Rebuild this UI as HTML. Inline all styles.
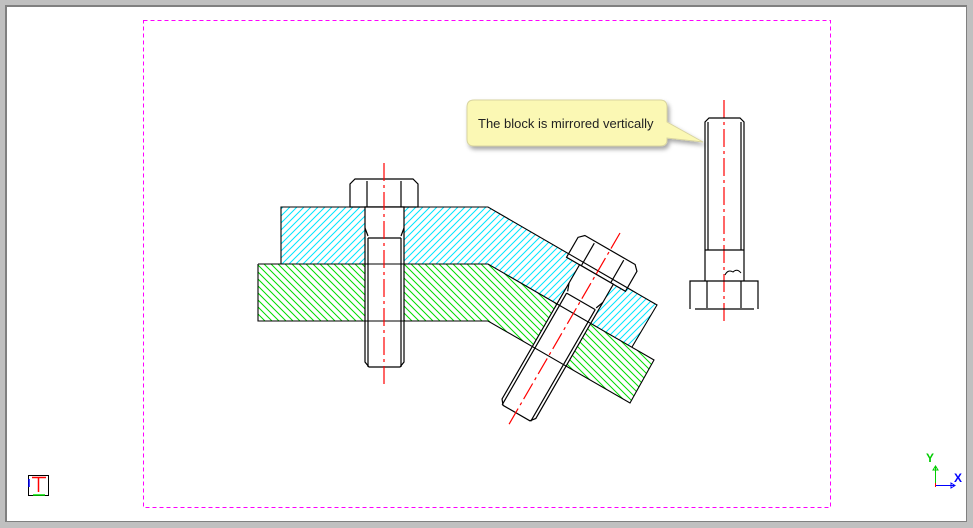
<!DOCTYPE html>
<html><head><meta charset="utf-8"><style>
html,body{margin:0;padding:0;background:#fff}
svg{display:block}
</style></head><body>
<svg width="973" height="528" viewBox="0 0 973 528" xmlns="http://www.w3.org/2000/svg">
<defs>
<pattern id="hc" patternUnits="userSpaceOnUse" width="7" height="7">
<path d="M0,7 L7,0 M-2,2 L2,-2 M5,9 L9,5" stroke="#00e5ff" stroke-width="1" fill="none"/>
</pattern>
<pattern id="hg" patternUnits="userSpaceOnUse" width="7" height="7">
<path d="M0,0 L7,7 M-2,5 L2,9 M5,-2 L9,2" stroke="#00dd00" stroke-width="1" fill="none"/>
</pattern>
<filter id="sh" x="-10%" y="-20%" width="130%" height="160%"><feDropShadow dx="2" dy="3" stdDeviation="2" flood-color="#000" flood-opacity="0.35"/></filter>
<g id="bolt" fill="#fff" stroke="#000" stroke-width="1.2">
<path d="M355,179 H413 L418,184 V207 H350 V184 Z"/>
<line x1="367" y1="181" x2="367" y2="207"/><line x1="401" y1="181" x2="401" y2="207"/>
<path d="M365,207 V362 L369,367 H400 L404,362 V207 Z"/>
<line x1="368" y1="238" x2="368" y2="367"/><line x1="401" y1="238" x2="401" y2="367"/>
<line x1="368" y1="238" x2="401" y2="238"/>
<path d="M365,228 L368,236 M404,228 L401,236" fill="none"/>
</g>
</defs>
<rect x="0" y="0" width="973" height="528" fill="#c0c0c0"/>
<rect x="5" y="5" width="962" height="517" fill="#808080"/>
<rect x="7" y="7" width="959" height="514" fill="#fff"/>
<rect x="143.5" y="20.5" width="687" height="487" fill="none" stroke="#ff00ff" stroke-width="1" stroke-dasharray="4,3"/>

<polygon points="281,207 488,207 657,305 632,347 488,264 281,264" fill="url(#hc)"/>
<polygon points="258,264 488,264 654,360 630,403 488,321 258,321" fill="url(#hg)"/>

<use href="#bolt"/>
<use href="#bolt" transform="translate(610,250) rotate(30) translate(-384,-179)"/>

<g fill="none" stroke="#000" stroke-width="1.1">
<polyline points="281,264 281,207 488,207 657,305 632,347"/>
<polyline points="258,264 488,264 654,360 630,403 488,321 258,321 258,264"/>
<line x1="365" y1="207" x2="404" y2="207"/>
</g>

<g stroke="#ff0000" stroke-width="1.2" stroke-dasharray="18,4,3,4" fill="none">
<line x1="384" y1="163" x2="384" y2="385"/>
<line x1="620" y1="233" x2="508" y2="426"/>
<line x1="724" y1="100" x2="724" y2="323"/>
</g>

<g fill="none" stroke="#000" stroke-width="1.2">
<path d="M705,281 V122 L709,118 H740 L744,122 V281"/>
<line x1="708" y1="122" x2="708" y2="250"/><line x1="741" y1="122" x2="741" y2="250"/>
<line x1="705" y1="250" x2="744" y2="250"/>
<path d="M690,309 V281 H758 V309"/>
<line x1="707" y1="281" x2="707" y2="308"/><line x1="741" y1="281" x2="741" y2="308"/>
<line x1="695" y1="309" x2="754" y2="309"/>
<path d="M725,275 q3,-6 8,-3 q4,-4 8,1" stroke-width="1"/>
</g>

<g filter="url(#sh)">
<path d="M474,100 H660 Q667,100 667,107 V122 L703,142 L667,138 V140 Q667,146 660,146 H474 Q467,146 467,139 V107 Q467,100 474,100 Z" fill="#fbf8b4" stroke="#d8d4a0" stroke-width="1"/>
</g>
<text x="478" y="128" font-family="Liberation Sans, sans-serif" font-size="13" fill="#222">The block is mirrored vertically</text>

<rect x="28.5" y="475.5" width="20" height="20" fill="#fff" stroke="#000"/>
<line x1="29" y1="479" x2="29" y2="487" stroke="#0000ff" stroke-width="1.5"/>
<line x1="33" y1="495" x2="45" y2="495" stroke="#00dd00" stroke-width="1.5"/>
<line x1="32" y1="477.5" x2="46" y2="477.5" stroke="#ff0000" stroke-width="1.5"/>
<line x1="38.5" y1="478" x2="38.5" y2="492" stroke="#ff0000" stroke-width="1.5"/>

<line x1="935.5" y1="466" x2="935.5" y2="486" stroke="#00cc00" stroke-width="1"/>
<path d="M933,470 L935.5,466 L938,470 Z" fill="none" stroke="#00cc00"/>
<line x1="935.5" y1="485.5" x2="955" y2="485.5" stroke="#0000ff" stroke-width="1"/>
<path d="M951,483 L955,485.5 L951,488 Z" fill="none" stroke="#0000ff"/>
<line x1="935.5" y1="483" x2="935.5" y2="487" stroke="#ff0000" stroke-width="1"/>
<text x="926" y="462" font-family="Liberation Sans, sans-serif" font-size="12" font-weight="bold" fill="#00cc00">Y</text>
<text x="954" y="482" font-family="Liberation Sans, sans-serif" font-size="12" font-weight="bold" fill="#0000ff">X</text>
</svg>
</body></html>
